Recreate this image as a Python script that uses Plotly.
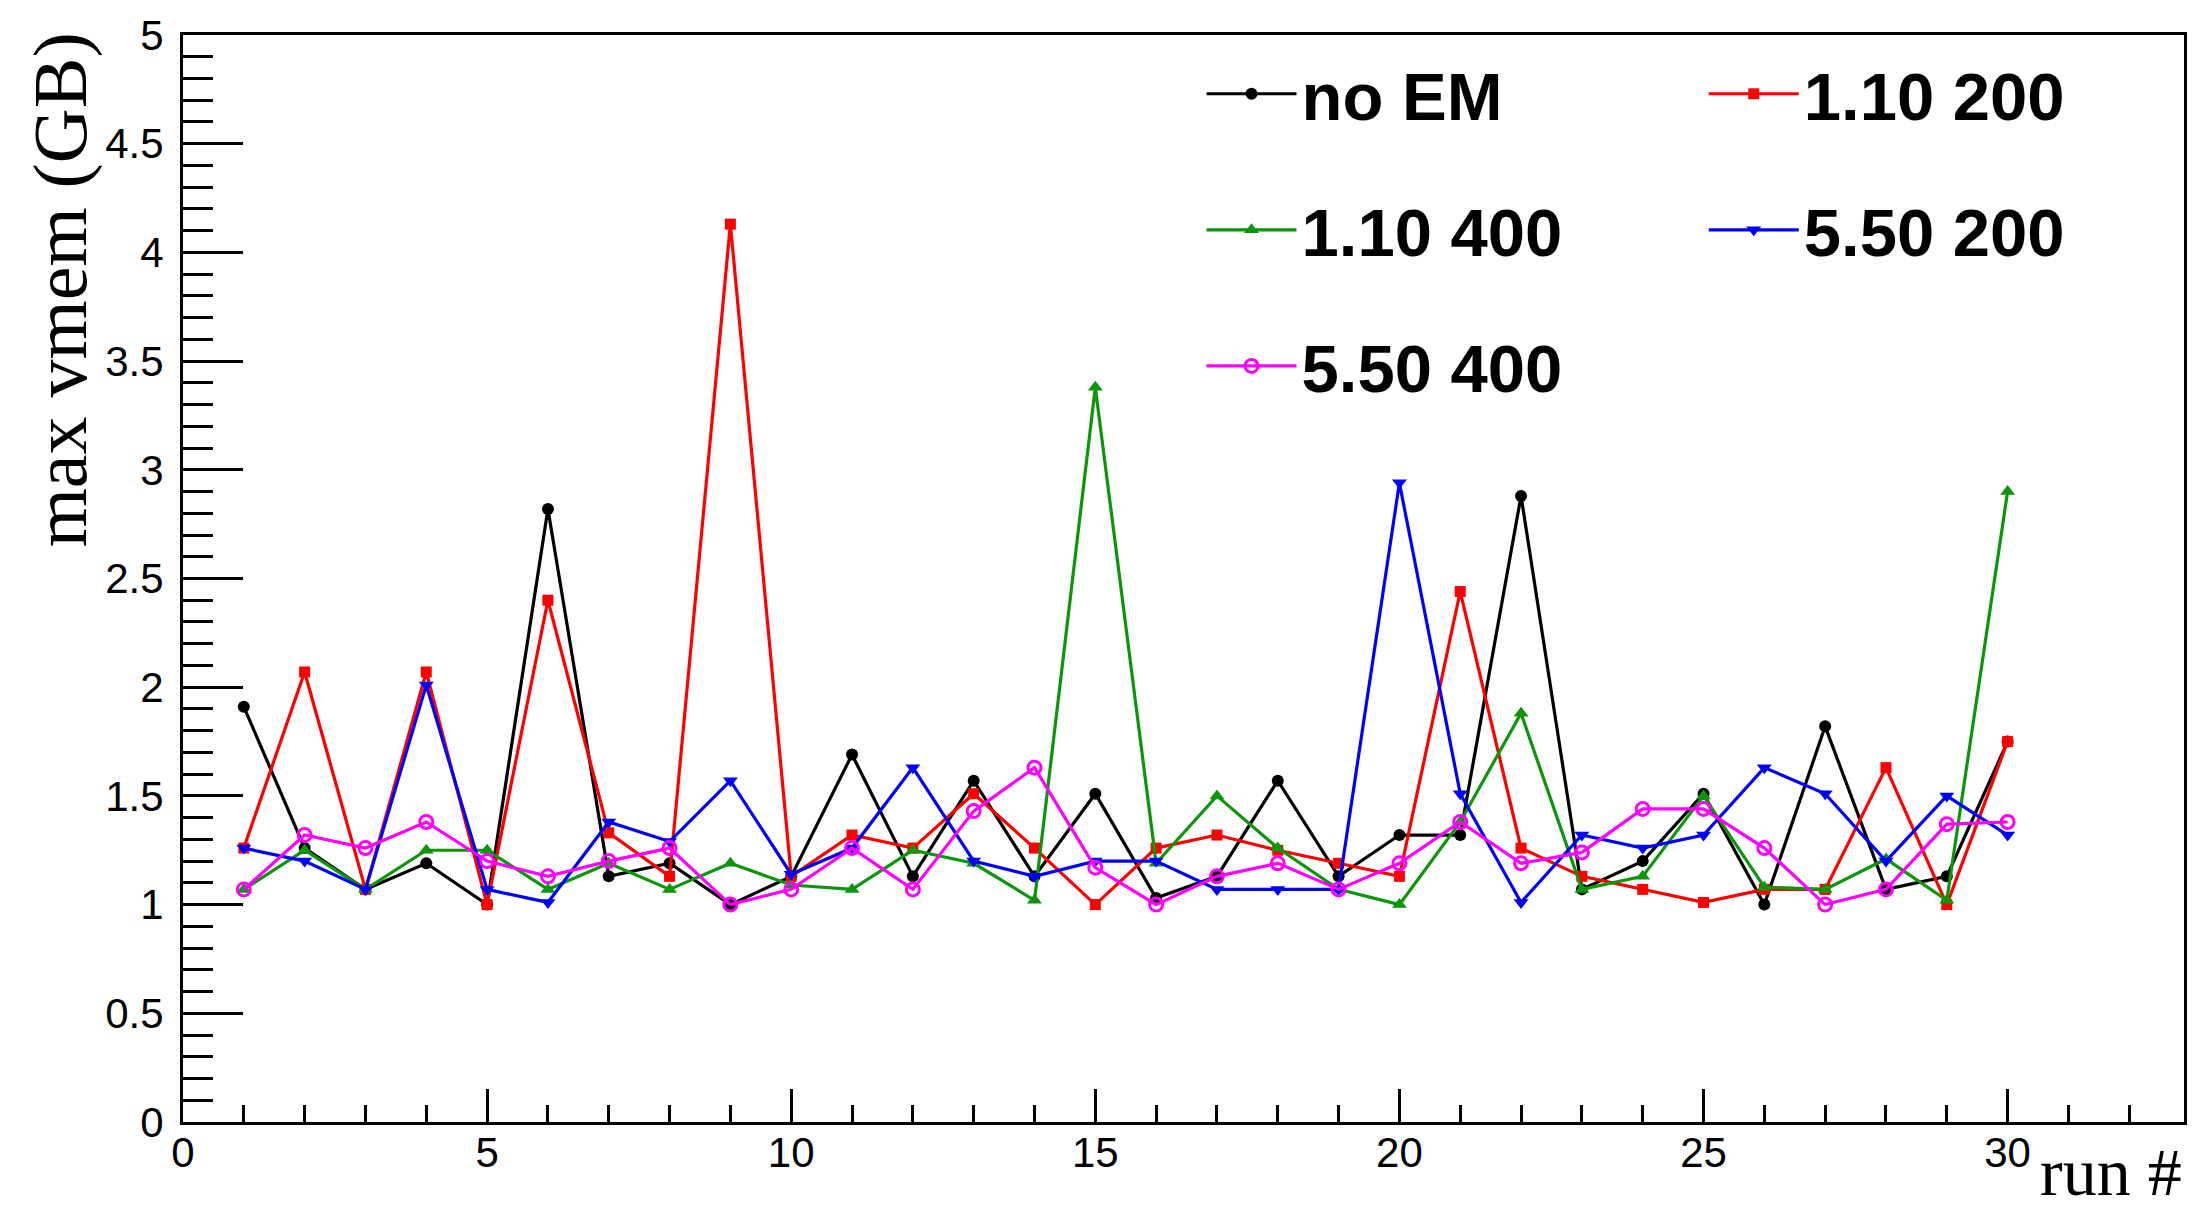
import plotly.graph_objects as go

# run numbers and max virtual memory per configuration (GB)
runs = list(range(1, 31))

no_em = [1.91, 1.26, 1.07, 1.19, 1.00, 2.82, 1.13, 1.19, 1.00, 1.13,
         1.69, 1.13, 1.57, 1.13, 1.51, 1.03, 1.13, 1.57, 1.13, 1.32,
         1.32, 2.88, 1.07, 1.20, 1.51, 1.00, 1.82, 1.07, 1.13, 1.75]

em_110_200 = [1.26, 2.07, 1.07, 2.07, 1.00, 2.40, 1.33, 1.13, 4.13, 1.13,
              1.32, 1.26, 1.51, 1.26, 1.00, 1.26, 1.32, 1.25, 1.19, 1.13,
              2.44, 1.26, 1.13, 1.07, 1.01, 1.07, 1.07, 1.63, 1.00, 1.75]

em_110_400 = [1.07, 1.25, 1.07, 1.25, 1.25, 1.07, 1.19, 1.07, 1.19, 1.09,
              1.07, 1.25, 1.19, 1.02, 3.38, 1.19, 1.50, 1.26, 1.07, 1.00,
              1.38, 1.88, 1.07, 1.13, 1.50, 1.08, 1.07, 1.21, 1.02, 2.90]

em_550_200 = [1.26, 1.20, 1.07, 2.01, 1.07, 1.01, 1.38, 1.29, 1.57, 1.14,
              1.26, 1.63, 1.20, 1.13, 1.20, 1.20, 1.07, 1.07, 1.07, 2.94,
              1.51, 1.01, 1.32, 1.26, 1.32, 1.63, 1.51, 1.20, 1.50, 1.32]

em_550_400 = [1.07, 1.32, 1.26, 1.38, 1.20, 1.13, 1.20, 1.26, 1.00, 1.07,
              1.26, 1.07, 1.43, 1.63, 1.17, 1.00, 1.13, 1.19, 1.07, 1.19,
              1.38, 1.19, 1.24, 1.44, 1.44, 1.26, 1.00, 1.07, 1.37, 1.38]

series = [
    # name, values, colour, symbol, size, legend column
    ("no EM", no_em, "#000000", "circle", 12, "legend"),
    ("1.10 200", em_110_200, "#ff0000", "square", 11, "legend2"),
    ("1.10 400", em_110_400, "#0b960b", "triangle-up", 13, "legend"),
    ("5.50 200", em_550_200, "#0000ff", "triangle-down", 13, "legend2"),
    ("5.50 400", em_550_400, "#ff00ff", "circle-open", 13, "legend"),
]

fig = go.Figure()
for name, vals, color, symbol, size, leg in series:
    marker = dict(symbol=symbol, size=size, color=color)
    if symbol.endswith("open"):
        marker["line"] = dict(color=color, width=3)
    fig.add_trace(go.Scatter(
        x=runs, y=vals, name=name, mode="lines+markers",
        line=dict(color=color, width=3.2),
        marker=marker,
        legend=leg, legendgroup=name,
    ))

axis_common = dict(
    showline=True, linecolor="black", linewidth=3, mirror=True,
    showgrid=False, zeroline=False,
    ticks="inside", tickcolor="black", tickwidth=3,
    tickfont=dict(family="Liberation Sans, Arial, sans-serif", size=42, color="black"),
)

legend_common = dict(
    font=dict(family="Liberation Sans, Arial, sans-serif", size=67,
              color="black", weight="bold"),
    bgcolor="rgba(0,0,0,0)", borderwidth=0,
    xanchor="left", yanchor="top",
    tracegroupgap=46, itemsizing="trace", itemwidth=90,
)

fig.update_layout(
    width=2204, height=1215,
    margin=dict(l=183, r=20, t=27, b=93),
    paper_bgcolor="white", plot_bgcolor="white",
    showlegend=True,
    xaxis=dict(
        range=[0, 32.9], tick0=0, dtick=5, ticklen=33,
        minor=dict(ticks="inside", dtick=1, ticklen=17, tickwidth=3, tickcolor="black"),
        ticklabelstandoff=-8,
        **axis_common,
    ),
    yaxis=dict(
        range=[0, 5], tick0=0, dtick=0.5, ticklen=60,
        minor=dict(ticks="inside", dtick=0.1, ticklen=30, tickwidth=3, tickcolor="black"),
        ticklabelstandoff=8,
        **axis_common,
    ),
    legend=dict(x=0.509, y=0.992, **legend_common),
    legend2=dict(x=0.760, y=0.992, **legend_common),
    annotations=[
        dict(text="max vmem (GB)", xref="paper", yref="paper",
             x=-0.0615, y=0.766, xanchor="center", yanchor="middle",
             textangle=-90, showarrow=False,
             font=dict(family="Liberation Serif, Times New Roman, serif", size=76, color="black")),
        dict(text="run #", xref="paper", yref="paper",
             x=1.0, y=-0.0825, xanchor="right", yanchor="bottom",
             showarrow=False,
             font=dict(family="Liberation Serif, Times New Roman, serif", size=68, color="black")),
    ],
)

fig.write_html("out.html")
